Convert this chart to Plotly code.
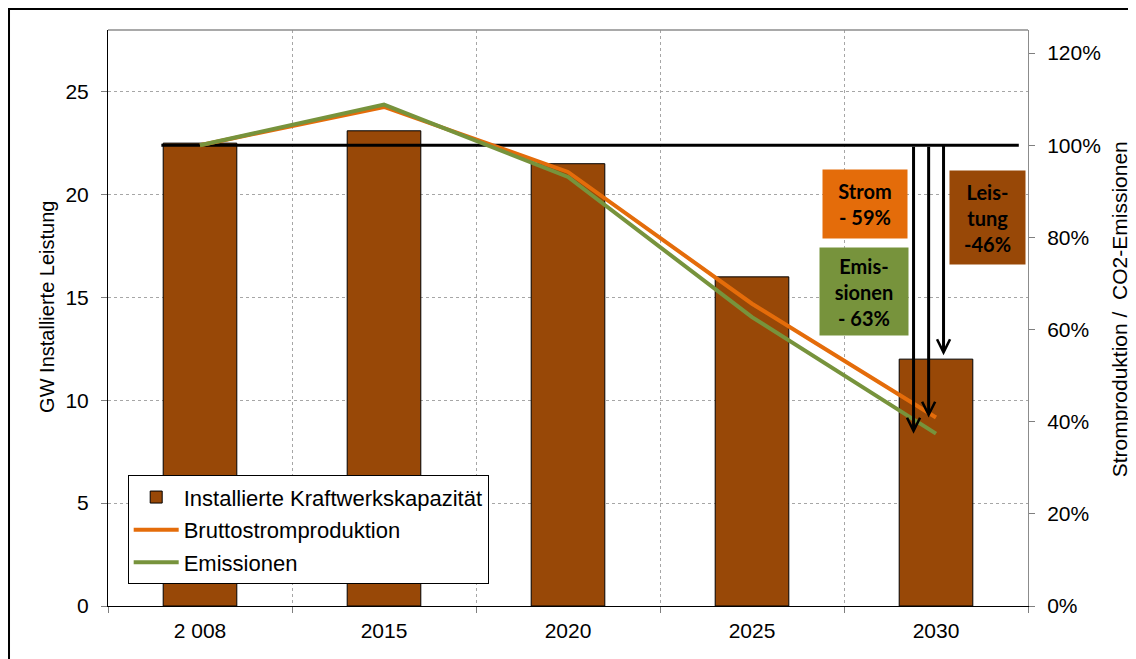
import plotly.graph_objects as go

# ---- data ----
years = ["2 008", "2015", "2020", "2025", "2030"]
capacity_gw = [22.5, 23.1, 21.5, 16.0, 12.0]          # Installierte Kraftwerkskapazität (GW)
strom_rel = [1.00, 1.083, 0.942, 0.656, 0.409]        # Bruttostromproduktion (rel. to 2008)
emis_rel = [1.00, 1.088, 0.931, 0.627, 0.374]         # Emissionen (rel. to 2008)
baseline = 1.0                                         # 100 % reference line
box_labels = ["Strom<br>- 59%", "Emis-<br>sionen<br>- 63%", "Leis-<br>tung<br>-46%"]

BAR_C = "#984807"
ORANGE = "#E46C0A"
GREEN = "#77933C"
GRID = "#A6A6A6"
FONT = "Liberation Sans, Arial, sans-serif"

xpos = list(range(len(years)))

fig = go.Figure()

fig.add_trace(go.Bar(
    x=xpos, y=capacity_gw, name="Installierte Kraftwerkskapazität",
    marker=dict(color=BAR_C, line=dict(color="black", width=1)),
    width=0.4, yaxis="y", legendgroup="a",
))

# 100 % reference line
fig.add_trace(go.Scatter(
    x=[-0.21, 4.45], y=[baseline, baseline], mode="lines",
    line=dict(color="black", width=3), yaxis="y2", showlegend=False, hoverinfo="skip",
))

fig.add_trace(go.Scatter(
    x=xpos, y=strom_rel, name="Bruttostromproduktion", mode="lines",
    line=dict(color=ORANGE, width=4), yaxis="y2", legendgroup="b",
))
fig.add_trace(go.Scatter(
    x=xpos, y=emis_rel, name="Emissionen", mode="lines",
    line=dict(color=GREEN, width=4), yaxis="y2", legendgroup="c",
))

bounds = [i - 0.5 for i in range(len(years) + 1)]

fig.update_layout(
    width=1136, height=659,
    margin=dict(l=100, r=116, t=22, b=61),
    paper_bgcolor="white", plot_bgcolor="white",
    font=dict(family=FONT, size=21, color="black"),
    showlegend=True,
    legend=dict(
        x=0.0214, y=0.227, xanchor="left", yanchor="top",
        bgcolor="white", bordercolor="black", borderwidth=1,
        font=dict(family=FONT, size=22, color="black"),
        itemwidth=45, tracegroupgap=1,
        entrywidth=310, entrywidthmode="pixels",
    ),
    xaxis=dict(
        range=[-0.5, 4.5], tickvals=xpos, ticktext=years, ticks="",
        showgrid=False, zeroline=False,
        showline=True, linecolor="black", linewidth=1,
        tickfont=dict(size=21), ticklabelstandoff=6,
        minor=dict(tickvals=bounds, ticks="outside", ticklen=6, tickcolor="#7F7F7F",
                   showgrid=True, gridcolor=GRID, griddash="dot", gridwidth=1),
    ),
    yaxis=dict(
        range=[0, 28], tickvals=[0, 5, 10, 15, 20, 25],
        ticks="outside", ticklen=6, tickcolor="#7F7F7F",
        showgrid=True, gridcolor=GRID, griddash="dot", gridwidth=1,
        zeroline=False, showline=True, linecolor="black", linewidth=1,
        tickfont=dict(size=21), ticklabelstandoff=8,
    ),
    yaxis2=dict(
        range=[0, 1.25], tickvals=[0, 0.2, 0.4, 0.6, 0.8, 1.0, 1.2], tickformat=".0%",
        overlaying="y", side="right",
        ticks="outside", ticklen=6, tickcolor="#7F7F7F",
        showgrid=False, zeroline=False, showline=True, linecolor="#8C8C8C", linewidth=1,
        tickfont=dict(size=21), ticklabelstandoff=8,
    ),
    bargap=0.6,
)

# plot area top border (grey) and outer chart border
fig.add_shape(type="line", xref="paper", yref="paper", x0=0, x1=1, y0=1, y1=1,
              line=dict(color="#8C8C8C", width=1.5))
fig.add_shape(type="rect", xref="paper", yref="paper",
              x0=-0.1076, x1=1.3, y0=-0.3, y1=1.0365,
              line=dict(color="black", width=2), fillcolor="rgba(0,0,0,0)")

# axis titles
fig.add_annotation(text="GW Installierte Leistung", textangle=-90, xref="paper", yref="paper",
                   x=-0.0665, y=0.519, showarrow=False, font=dict(size=20),
                   xanchor="center", yanchor="middle")
fig.add_annotation(text="Stromproduktion /  CO2-Emissionen", textangle=-90, xref="paper", yref="paper",
                   x=1.0998, y=0.5147, showarrow=False, font=dict(size=21),
                   xanchor="center", yanchor="middle")

# arrows from 100 % line to 2030 values
ARROW = dict(showarrow=True, arrowhead=5, arrowsize=0.85, arrowwidth=3,
             arrowcolor="black", text="")
fig.add_annotation(x=3.878, y=emis_rel[4], xref="x", yref="y2",
                   ax=3.878, ay=baseline, axref="x", ayref="y2", standoff=0, **ARROW)
fig.add_annotation(x=3.960, y=strom_rel[4], xref="x", yref="y2",
                   ax=3.960, ay=baseline, axref="x", ayref="y2", standoff=0, **ARROW)
fig.add_annotation(x=4.041, y=capacity_gw[4], xref="x", yref="y",
                   ax=4.041, ay=capacity_gw[0], axref="x", ayref="y", standoff=4, **ARROW)

# labelled boxes
BOXFONT = dict(family="Lato, Carlito, sans-serif", size=20, color="black", weight="bold")
boxes = [
    (box_labels[0], 0.8229, 0.698, 84, 68, ORANGE),
    (box_labels[1], 0.8220, 0.5467, 88, 87, GREEN),
    (box_labels[2], 0.9563, 0.6746, 75, 93, BAR_C),
]
for txt, bx, by, w, h, col in boxes:
    fig.add_annotation(text=txt, xref="paper", yref="paper", x=bx, y=by,
                       xanchor="center", yanchor="middle", showarrow=False,
                       width=w, height=h, bgcolor=col, borderpad=0,
                       font=BOXFONT, align="center", valign="middle")

fig.write_html("out.html")
